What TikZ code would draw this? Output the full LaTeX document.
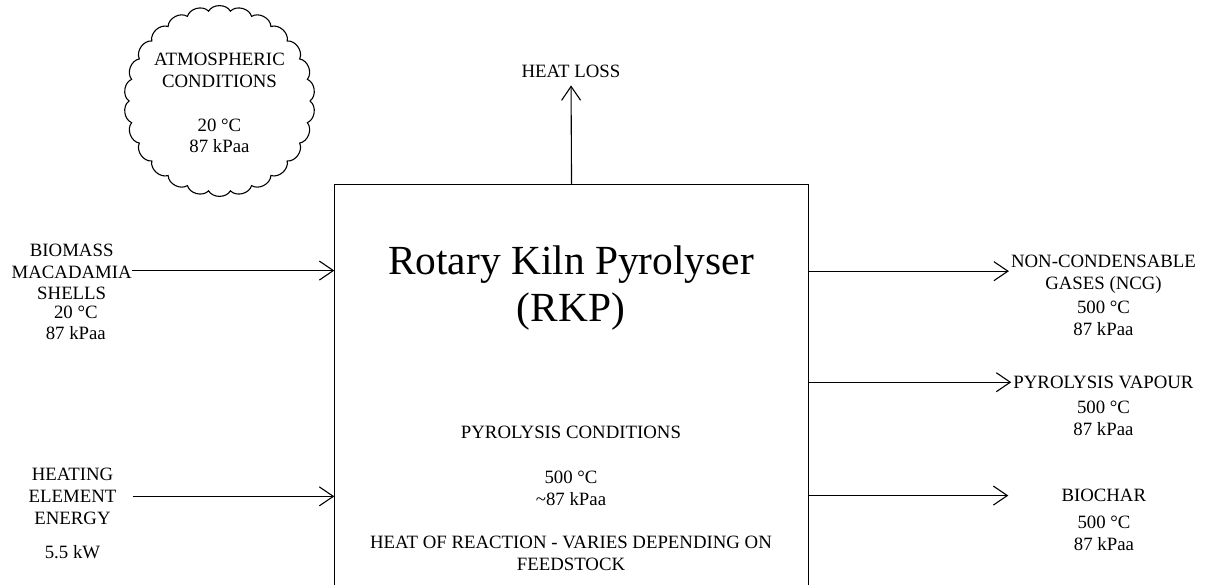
\documentclass[tikz,border=0pt]{standalone}
\usepackage{fontspec}
\setmainfont{Liberation Serif}
\usetikzlibrary{arrows.meta,calc}
\begin{document}
\begin{tikzpicture}[x=1pt,y=-1pt,
  lbl/.style={inner sep=0pt, align=center, font=\fontsize{18.8}{21.8}\selectfont},
  flow/.style={line width=1.1pt, -{Straight Barb[length=14pt,width=19pt]}},
  cloudline/.style={line width=1.1pt}]
\useasboundingbox (0,0) rectangle (1205,585);
\clip (0,0) rectangle (1205,585);

% cloud
\coordinate (cc) at (219.5,101);
\draw[cloudline] ($(cc)+(0:90.5)$) \foreach \k in {1,...,26}{ to[bend left=60] ($(cc)+({\k*360/26}:90.5)$) };
\node[lbl, anchor=base] (atm1) at (219.5,87.3) {ATMOSPHERIC\\CONDITIONS};
\node[lbl, anchor=base] (atm2) at (219.5,153) {20 °C\\87 kPaa};

% main box
\node[draw, line width=1.1pt, minimum width=473.4pt, minimum height=455pt, inner sep=0pt, anchor=north west] (rkp) at (334.3,184.3) {};
\node[align=center, inner sep=0pt, anchor=base, font=\fontsize{41.4}{46.7}\selectfont] (title) at (571,321.7) {Rotary Kiln Pyrolyser\\(RKP)};
\node[lbl, anchor=base] (cond) at (571,438.3) {PYROLYSIS CONDITIONS};
\node[lbl, anchor=base] (ptemp) at (571,505) {500 °C\\\textasciitilde87 kPaa};
\node[lbl, anchor=base] (hor) at (571,570) {HEAT OF REACTION - VARIES DEPENDING ON\\FEEDSTOCK};

% heat loss
\node[lbl, anchor=base] (heat) at (571,77.7) {HEAT LOSS};
\draw[flow, shorten >=7.3pt] (rkp.north) -- (heat.south);

% left inputs
\node[lbl, anchor=base] (bio) at (71.7,300) {BIOMASS\\MACADAMIA\\SHELLS};
\coordinate (bioout) at ([yshift=1.5pt]bio.east);
\draw[flow] (bioout) -- (bioout -| rkp.west);
\node[lbl, anchor=base] (biot) at (75.8,340) {20 °C\\87 kPaa};
\node[lbl, anchor=base] (heating) at (72.5,524.3) {HEATING\\ELEMENT\\ENERGY};
\draw[flow, shorten <=16.3pt] (heating.east) -- (heating.east -| rkp.west);
\node[lbl, anchor=base] (kw) at (72.5,558.3) {5.5 kW};

% right outputs
\node[lbl, anchor=base] (ncg) at (1103.5,289.3) {NON-CONDENSABLE\\GASES (NCG)};
\coordinate (ncgin) at ([yshift=3pt]ncg.west);
\draw[flow, shorten >=2pt] (ncgin -| rkp.east) -- (ncgin);
\node[lbl, anchor=base] (ncgt) at (1103.5,335) {500 °C\\87 kPaa};
\node[lbl, anchor=base] (vap) at (1103.5,388.3) {PYROLYSIS VAPOUR};
\draw[flow, shorten >=2pt] (vap.west -| rkp.east) -- (vap.west);
\node[lbl, anchor=base] (vapt) at (1103.5,435) {500 °C\\87 kPaa};
\node[lbl, anchor=base] (bc) at (1103.8,501.7) {BIOCHAR};
\draw[flow, shorten >=53pt] (bc.west -| rkp.east) -- (bc.west);
\node[lbl, anchor=base] (bct) at (1104,550) {500 °C\\87 kPaa};
\end{tikzpicture}
\end{document}
